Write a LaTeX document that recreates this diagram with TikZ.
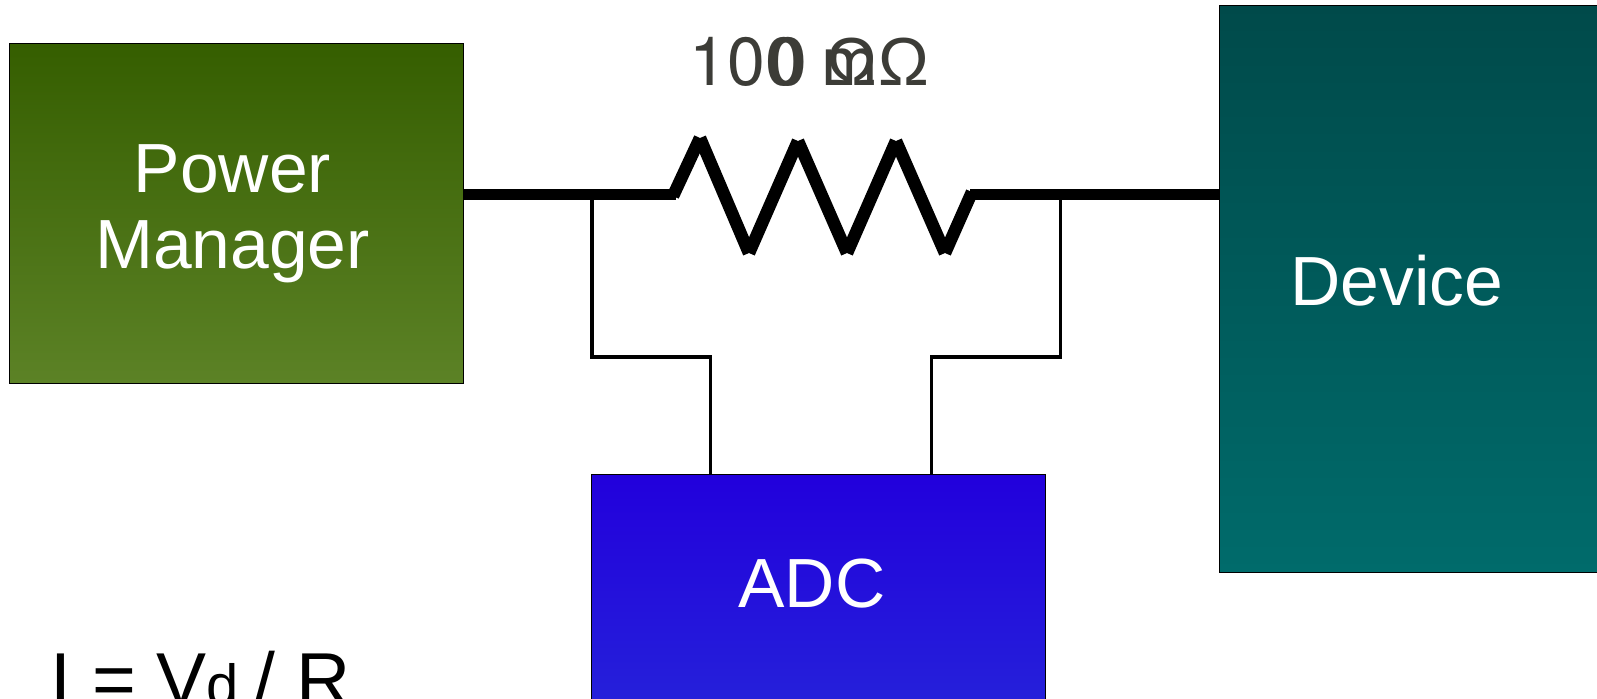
\documentclass[tikz,border=0pt]{standalone}
\usepackage{fontspec}
\setmainfont{Liberation Sans}
\newfontfamily\valuefont{TeX Gyre Heros}

\definecolor{valuegray}{HTML}{3C3C37}
\definecolor{pmtop}{HTML}{355E00}
\definecolor{pmbot}{HTML}{5C8226}
\definecolor{adctop}{HTML}{2200DC}
\definecolor{adcbot}{HTML}{2520DA}
\definecolor{devtop}{HTML}{004A4A}
\definecolor{devbot}{HTML}{006B6B}

\tikzset{
  blockbox/.style={draw=black, line width=0.5pt, rectangle, inner sep=0pt, outer sep=0pt},
  blocktext/.style={text=white, inner sep=0pt, anchor=base, align=center, font=\fontsize{34.8}{38}\selectfont},
  valuetext/.style={text=valuegray, inner sep=0pt, anchor=base west, font=\fontsize{34}{38}\selectfont},
  mainwire/.style={line width=5.5pt},
  zigwire/.style={line width=6.25pt},
  sensewire/.style={line width=1.75pt, line join=miter}
}

\begin{document}
\begin{tikzpicture}[x=0.5pt, y=-0.5pt]
  \useasboundingbox (0,0) rectangle (1597,698);

  % Blocks
  \node[blockbox, minimum width=226.75pt, minimum height=170.25pt, top color=pmtop, bottom color=pmbot] (power) at (236.5,213.25) {};
  \node[blockbox, minimum width=227pt, minimum height=113pt, top color=adctop, bottom color=adcbot] (adc) at (818.5,587) {};
  \node[blockbox, minimum width=195.25pt, minimum height=283.75pt, top color=devtop, bottom color=devbot] (device) at (1414.75,288.75) {};

  % Block labels
  \node[blocktext] (powerlabel) at (232.5,268) {Power\\Manager};
  \node[blocktext] (adclabel) at (812,607) {ADC};
  \node[blocktext] (devicelabel) at (1397,305) {Device};

  % Resistor points
  \coordinate (pmout) at (463.5,194.5);
  \coordinate (devin) at (1219.5,194.5);
  \coordinate (rin) at (676,194.5);
  \coordinate (rout) at (970,194.5);
  \coordinate (r0) at (673,196);
  \coordinate (r1) at (700,138);
  \coordinate (r2) at (749,253);
  \coordinate (r3) at (798,141);
  \coordinate (r4) at (847,253);
  \coordinate (r5) at (896,141);
  \coordinate (r6) at (945,253);
  \coordinate (r7) at (972,192);

  % Main line
  \draw[mainwire] (pmout) -- (rin);
  \foreach \a/\b in {r0/r1, r1/r2, r2/r3, r3/r4, r4/r5, r5/r6, r6/r7}
    \draw[zigwire] (\a) -- (\b);
  \draw[mainwire] (rout) -- (devin);

  % Sense lines
  \coordinate (tapl) at (592,194.5);
  \coordinate (tapr) at (1060.5,194.5);
  \coordinate (adcl) at (710.5,474);
  \coordinate (adcr) at (931.5,474);
  \draw[sensewire] (tapl) -- (tapl |- 0,357) -- (adcl |- 0,357) -- (adcl);
  \draw[sensewire] (tapr) -- (tapr |- 0,357) -- (adcr |- 0,357) -- (adcr);

  % Resistor value
  \node[valuetext] (valuea) at (769,85) {{\valuefont 0 }Ω};
  \node[valuetext] (valueb) at (689,85) {{\valuefont 100 m}Ω};

  % Formula
  \node[inner sep=0pt, anchor=base west, font=\fontsize{37.5}{40}\selectfont] (formula) at (50,705)
    {I = V{\fontsize{29}{32}\selectfont d}\kern-2.5pt\ / R};
\end{tikzpicture}
\end{document}
